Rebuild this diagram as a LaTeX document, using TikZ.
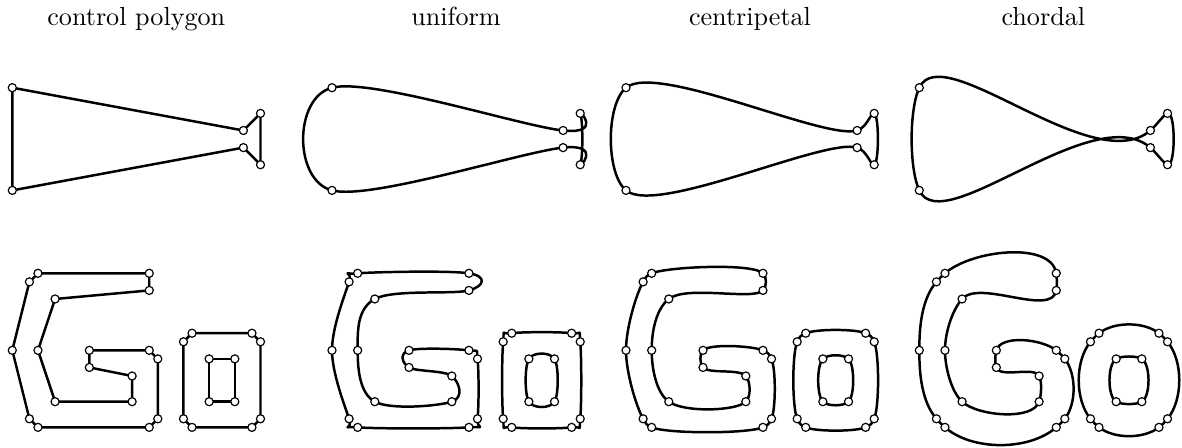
\documentclass[tikz,border=0pt]{standalone}
\usetikzlibrary{positioning}
%% knot lists, in grid units (y grows downward)
\def\vase{0/0,27/5,29/3,29/9,27/7,0/12}
\def\Gout{3/0,16/0,16/2,5/3,3/9,5/15,14/15,14/12,9/11,9/9,16/9,17/10,17/17,16/18,3/18,2/17,0/9,2/1}
\def\oout{21/7,28/7,29/8,29/17,28/18,21/18,20/17,20/8}
\def\oin{23/10,26/10,26/15,23/15}
\newcommand\crv[2]{\csname cr#1\number#2\endcsname}
\newcommand\crstore[1]{% store the knots of a closed list
  \foreach \a/\b [count=\i from 0] in #1 {%
    \expandafter\xdef\csname crx\i\endcsname{\a}%
    \expandafter\xdef\csname cry\i\endcsname{\b}%
    \ifnum\i=0 \xdef\crpoly{(\a,\b)}\else\xdef\crpoly{\crpoly -- (\a,\b)}\fi
    \xdef\crn{\the\numexpr\i+1\relax}}}
\newcommand\crbuild[1]{% Catmull-Rom with parameter #1, as Bezier pieces
  \gdef\crpath{}%
  \xdef\crstart{(\crv{x}{0},\crv{y}{0})}%
  \pgfmathtruncatemacro\crlast{\crn-1}%
  \foreach \i in {0,...,\crlast}{%
    \pgfmathtruncatemacro\ia{mod(\i+\crn-1,\crn)}%
    \pgfmathtruncatemacro\ib{mod(\i+1,\crn)}%
    \pgfmathtruncatemacro\ic{mod(\i+2,\crn)}%
    \edef\xa{\crv{x}{\ia}}\edef\ya{\crv{y}{\ia}}%
    \edef\xb{\crv{x}{\i}}\edef\yb{\crv{y}{\i}}%
    \edef\xc{\crv{x}{\ib}}\edef\yc{\crv{y}{\ib}}%
    \edef\xd{\crv{x}{\ic}}\edef\yd{\crv{y}{\ic}}%
    \edef\da{\fpeval{((\xb-\xa)^2+(\yb-\ya)^2)^(#1/2)}}%
    \edef\db{\fpeval{((\xc-\xb)^2+(\yc-\yb)^2)^(#1/2)}}%
    \edef\dc{\fpeval{((\xd-\xc)^2+(\yd-\yc)^2)^(#1/2)}}%
    \edef\ka{\fpeval{3*\da*(\da+\db)}}%
    \edef\kc{\fpeval{3*\dc*(\dc+\db)}}%
    \edef\pa{\fpeval{2*\da^2+3*\da*\db+\db^2}}%
    \edef\pc{\fpeval{2*\dc^2+3*\dc*\db+\db^2}}%
    \xdef\crpath{\crpath .. controls
      (\fpeval{round((\da^2*\xc-\db^2*\xa+\pa*\xb)/\ka,4)},\fpeval{round((\da^2*\yc-\db^2*\ya+\pa*\yb)/\ka,4)}) and
      (\fpeval{round((\dc^2*\xb-\db^2*\xd+\pc*\xc)/\kc,4)},\fpeval{round((\dc^2*\yb-\db^2*\yd+\pc*\yc)/\kc,4)}) .. (\xc,\yc)}}}
\newcommand\crshape[2]{% parameter (negative: polygon), knot list
  \crstore{#2}%
  \ifdim#1pt<0pt \draw[curve] \crpoly -- cycle;
  \else \crbuild{#1}\draw[curve] \crstart \crpath -- cycle;
  \fi}
\newcommand\crdots[2]{% name prefix, knot list
  \foreach \a/\b [count=\i] in #2 \node[knot] (#1-\i) at (\a,\b) {};}
\begin{document}
\begin{tikzpicture}[x=0.383pt, y=-0.383pt,
  curve/.style={line width=0.95pt, line join=round},
  knot/.style={circle, draw, fill=white, line width=0.45pt, inner sep=0pt, minimum size=3.1pt},
  title/.style={anchor=base},
  grid/.style={x=3.278pt, y=-3.278pt}]
\useasboundingbox (0,0) rectangle (1182,448);
\foreach \ox/\al/\ttl [count=\k] in {12.3/-1/control polygon,332/0/uniform,626/0.5/centripetal,919.3/1/chordal}{
  \node[title] (title\k) at (\ox+124,26) {\ttl};
  %% upper row
  \begin{scope}[shift={(\ox,87.7)}, grid]
    \crshape{\al}{\vase}
    \crdots{v\k}{\vase}
  \end{scope}
  %% lower row
  \begin{scope}[shift={(\ox,273.3)}, grid]
    \crshape{\al}{\Gout}
    \crshape{\al}{\oout}
    \crshape{\al}{\oin}
    \crdots{g\k}{\Gout}
    \crdots{o\k}{\oout}
    \crdots{i\k}{\oin}
  \end{scope}
}
\end{tikzpicture}
\end{document}
